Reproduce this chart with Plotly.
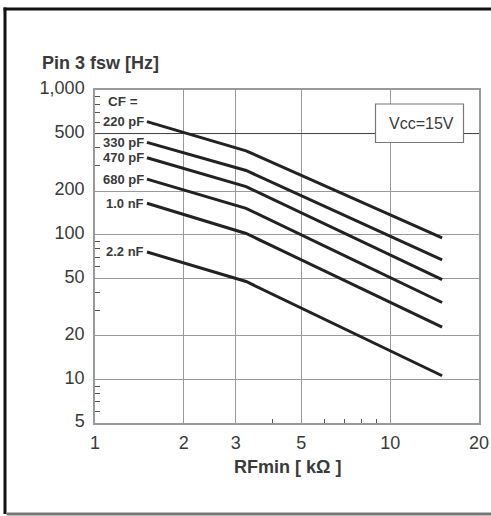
import math
import plotly.graph_objects as go

# ---- data ----
RF_KOHM = [1.5, 3.25, 15]
CF_LABELS = ["220 pF", "330 pF", "470 pF", "680 pF", "1.0 nF", "2.2 nF"]
F_220P = [605, 380, 95]
F_330P = [435, 278, 67]
F_470P = [340, 215, 49]
F_680P = [242, 152, 34]
F_1N0 = [165, 102, 23]
F_2N2 = [76, 47.5, 10.6]
SERIES = [F_220P, F_330P, F_470P, F_680P, F_1N0, F_2N2]

Y_TICKS = [5, 10, 20, 50, 100, 200, 500, 1000]
Y_TICKTEXT = ["5", "10", "20", "50", "100", "200", "500", "1,000"]
X_TICKS = [1, 2, 3, 5, 10, 20]
X_TICKTEXT = ["1", "2", "3", "5", "10", "20"]
Y_MINOR = [6, 7, 8, 9, 30, 40, 60, 70, 80, 90, 300, 400, 600, 700, 800, 900]
X_MINOR = [4, 6, 7, 8, 9]

W, H = 491, 516
ML, MR, MT, MB = 95, 12, 90, 93
PW, PH = W - ML - MR, H - MT - MB


def px(x):
    return (x - ML) / PW


def py(y):
    return (H - MB - y) / PH


FONT = "Liberation Sans, Arial, sans-serif"
TXT = "#3a3a3a"
GRID = "#9a9a9a"

fig = go.Figure()

# darker reference line at 500 Hz
fig.add_trace(go.Scatter(x=[1, 20], y=[500, 500], mode="lines",
                         line=dict(color="#444444", width=1),
                         hoverinfo="skip", showlegend=False))

for name, ys in zip(CF_LABELS, SERIES):
    fig.add_trace(go.Scatter(x=RF_KOHM, y=ys, mode="lines", name=name,
                             line=dict(color="#222222", width=3),
                             showlegend=False))

annotations = []
for name, ys in zip(CF_LABELS, SERIES):
    annotations.append(dict(x=math.log10(RF_KOHM[0]), y=math.log10(ys[0]),
                            xref="x", yref="y", text="<b>" + name + "</b>",
                            showarrow=False,
                            xanchor="right", yanchor="middle", xshift=-1,
                            font=dict(family=FONT, size=13, color=TXT)))

annotations += [
    dict(x=px(106), y=py(101), xref="paper", yref="paper", text="<b>CF =</b>",
         showarrow=False, xanchor="left", yanchor="middle",
         font=dict(family=FONT, size=13.5, color=TXT)),
    dict(x=px(40), y=py(63), xref="paper", yref="paper",
         text="<b>Pin 3 fsw [Hz]</b>", showarrow=False,
         xanchor="left", yanchor="middle",
         font=dict(family=FONT, size=18, color=TXT)),
    dict(x=px(287), y=py(467), xref="paper", yref="paper",
         text="<b>RFmin [ kΩ ]</b>", showarrow=False,
         xanchor="center", yanchor="middle",
         font=dict(family=FONT, size=18, color=TXT)),
    dict(x=px(421), y=py(123.5), xref="paper", yref="paper",
         text="Vcc=15V", showarrow=False,
         xanchor="center", yanchor="middle",
         font=dict(family=FONT, size=16, color=TXT)),
]

shapes = [
    # Vcc box
    dict(type="rect", xref="paper", yref="paper",
         x0=px(375.5), x1=px(463.5), y0=py(142.5), y1=py(104),
         line=dict(color="#777777", width=1.2), fillcolor="white",
         layer="above"),
    # outer frame: top (black), left (black), bottom (grey)
    dict(type="line", xref="paper", yref="paper",
         x0=px(3.5), x1=px(520), y0=py(9), y1=py(9),
         line=dict(color="#111111", width=3), layer="above"),
    dict(type="line", xref="paper", yref="paper",
         x0=px(5), x1=px(5), y0=py(7.5), y1=py(514),
         line=dict(color="#111111", width=3), layer="above"),
    dict(type="line", xref="paper", yref="paper",
         x0=px(6.5), x1=px(520), y0=py(514), y1=py(514),
         line=dict(color="#777777", width=3), layer="above"),
]

fig.update_layout(
    width=W, height=H, autosize=False,
    margin=dict(l=ML, r=MR, t=MT, b=MB, pad=0, autoexpand=False),
    paper_bgcolor="white", plot_bgcolor="white",
    annotations=annotations, shapes=shapes,
    showlegend=False,
    xaxis=dict(type="log", range=[math.log10(1), math.log10(20)],
               tickvals=X_TICKS, ticktext=X_TICKTEXT, automargin=False,
               showgrid=True, gridcolor=GRID, gridwidth=1,
               showline=True, linecolor=GRID, linewidth=1.5, mirror=True,
               ticks="", zeroline=False, ticklabelstandoff=3,
               tickfont=dict(family=FONT, size=18, color=TXT),
               minor=dict(tickvals=X_MINOR, ticks="inside", ticklen=4,
                          tickcolor="#555555", tickwidth=1, showgrid=False)),
    yaxis=dict(type="log", range=[math.log10(5), math.log10(1000)],
               tickvals=Y_TICKS, ticktext=Y_TICKTEXT, automargin=False,
               showgrid=True, gridcolor=GRID, gridwidth=1,
               showline=True, linecolor=GRID, linewidth=1.5, mirror=True,
               ticks="", zeroline=False, ticklabelstandoff=5,
               ticklabelshift=-2,
               tickfont=dict(family=FONT, size=18, color=TXT),
               minor=dict(tickvals=Y_MINOR, ticks="inside", ticklen=5,
                          tickcolor="#555555", tickwidth=1, showgrid=False)),
)

fig.write_html(
    "out.html",
    config={"displayModeBar": False},
    post_script="document.body.style.margin='0';"
                "document.body.style.overflow='hidden';",
)
